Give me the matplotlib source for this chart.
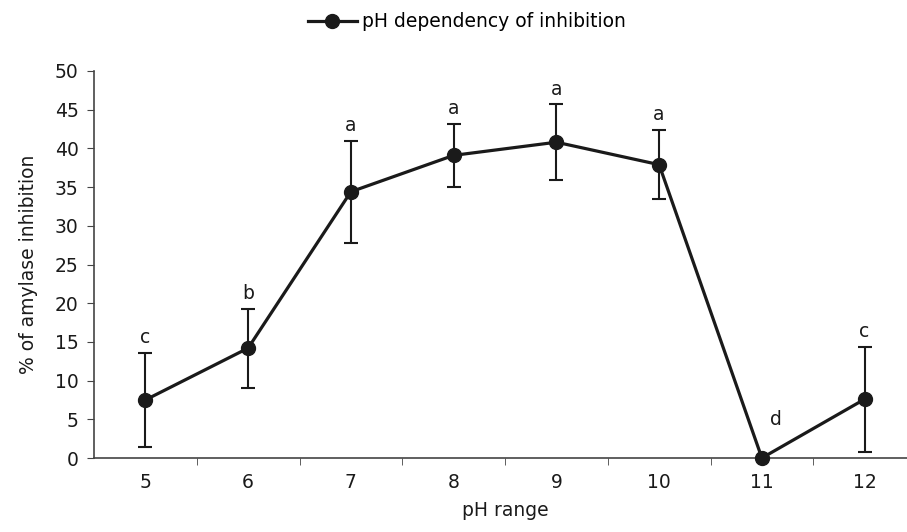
import matplotlib
matplotlib.use('Agg')
import matplotlib.pyplot as plt

plt.rcParams['font.family'] = ['DejaVu Sans']

# data
ph = [5, 6, 7, 8, 9, 10, 11, 12]
inhibition = [7.5, 14.2, 34.4, 39.1, 40.8, 37.9, 0.0, 7.6]
err = [6.1, 5.1, 6.6, 4.1, 4.9, 4.5, 0.0, 6.8]
letters = ['c', 'b', 'a', 'a', 'a', 'a', 'd', 'c']

dark = '#1a1a1a'
fs = 13.5

fig = plt.figure(figsize=(9.07, 5.32), dpi=100)
ax = fig.add_axes([94 / 907, 74 / 532, 822 / 907, 387 / 532])

x = list(range(len(ph)))
ax.errorbar(x, inhibition, yerr=[e if e > 0 else float('nan') for e in err],
            fmt='none', ecolor=dark, elinewidth=1.5, capsize=5, capthick=1.5, zorder=2)
ax.plot(x, inhibition, color=dark, lw=2.3, marker='o', ms=10,
        label='pH dependency of inhibition', zorder=3, clip_on=False)

# significance letters
for i, (v, e, l) in enumerate(zip(inhibition, err, letters)):
    if e > 0:
        ax.annotate(l, (i, v + e), xytext=(0, 4), textcoords='offset points',
                    ha='center', va='bottom', fontsize=fs, color=dark)
    else:
        ax.annotate(l, (i, v), xytext=(10, 28), textcoords='offset points',
                    ha='center', va='center', fontsize=fs, color=dark)

ax.set_xlim(-0.5, len(ph) - 0.5)
ax.set_ylim(0, 50)
ax.set_yticks(range(0, 51, 5))
ax.set_xticks(x)
ax.set_xticklabels([str(p) for p in ph])
ax.set_xticks([i + 0.5 for i in x], minor=True)
ax.tick_params(axis='x', which='major', length=0, labelsize=fs, pad=11, colors=dark)
ax.tick_params(axis='x', which='minor', length=5, direction='out', color='#444444')
ax.tick_params(axis='y', length=5, direction='out', labelsize=fs, pad=6,
               color='#444444', labelcolor=dark)

for s in ['top', 'right']:
    ax.spines[s].set_visible(False)
for s in ['left', 'bottom']:
    ax.spines[s].set_color('#444444')
    ax.spines[s].set_linewidth(1.2)

ax.set_xlabel('pH range', fontsize=fs, color=dark, labelpad=6)
ax.set_ylabel('% of amylase inhibition', fontsize=fs, color=dark, labelpad=12)

ax.legend(loc='upper center', bbox_to_anchor=(0.454, 1.195),
          frameon=False, fontsize=fs, handlelength=2.6, handletextpad=0.3)

fig.savefig('out.png', dpi=100)
